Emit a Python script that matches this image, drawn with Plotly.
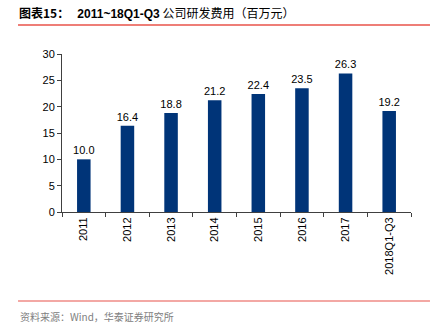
import plotly.graph_objects as go

categories = ["2011", "2012", "2013", "2014", "2015", "2016", "2017", "2018Q1-Q3"]
values = [10.0, 16.4, 18.8, 21.2, 22.4, 23.5, 26.3, 19.2]
y_ticks = [0, 5, 10, 15, 20, 25, 30]

FONT = "Liberation Sans"
PLOT_TOP, PLOT_BOTTOM = 54, 212
PH = PLOT_BOTTOM - PLOT_TOP

def py(pixel_y):
    return (PLOT_BOTTOM - pixel_y) / PH

fig = go.Figure()
fig.add_trace(go.Bar(
    x=categories, y=values,
    marker=dict(color="#003478", line=dict(width=0)),
    text=[f"{v:.1f}" for v in values],
    textposition="outside",
    constraintext="none",
    textfont=dict(family=FONT, size=11, color="black"),
    cliponaxis=False,
    width=0.31,
))

fig.update_layout(
    width=435, height=326,
    margin=dict(l=62, r=24, t=PLOT_TOP, b=326 - PLOT_BOTTOM),
    paper_bgcolor="white", plot_bgcolor="white",
    showlegend=False,
    font=dict(family=FONT, size=11, color="black"),
    xaxis=dict(
        type="category",
        tickangle=-90,
        showline=True, linecolor="#404040", linewidth=1,
        ticks="outside", ticklen=4, tickcolor="#404040",
        tickson="boundaries",
        tickfont=dict(family=FONT, size=11, color="black"),
        range=[-0.5, 7.5],
    ),
    yaxis=dict(
        range=[0, 30], tickvals=y_ticks,
        showline=True, linecolor="#404040", linewidth=1,
        ticks="outside", ticklen=4, tickcolor="#404040",
        showgrid=False, zeroline=False,
        tickfont=dict(family=FONT, size=11, color="black"),
    ),
    shapes=[
        dict(type="line", xref="paper", yref="paper",
             x0=-0.126, x1=1.0544, y0=py(25), y1=py(25),
             line=dict(color="#e8534a", width=1.5)),
        dict(type="line", xref="paper", yref="paper",
             x0=-0.126, x1=1.0544, y0=py(301), y1=py(301),
             line=dict(color="#e8534a", width=1.2)),
    ],
)

fig.add_annotation(
    xref="paper", yref="paper", x=-0.13, y=py(13),
    xanchor="left", yanchor="middle", showarrow=False,
    text="<b>图表15：   <span style='font-family:Liberation Sans'>2011~18Q1-Q3</span></b> 公司研发费用（百万元）",
    font=dict(family="Noto Sans CJK SC", size=12, color="black"),
)
fig.add_annotation(
    xref="paper", yref="paper", x=-0.126, y=py(316),
    xanchor="left", yanchor="middle", showarrow=False,
    text="资料来源：Wind，华泰证券研究所",
    font=dict(family="Noto Sans CJK SC", size=10, color="#808080"),
)

fig.write_html("out.html", config={"displayModeBar": False})
